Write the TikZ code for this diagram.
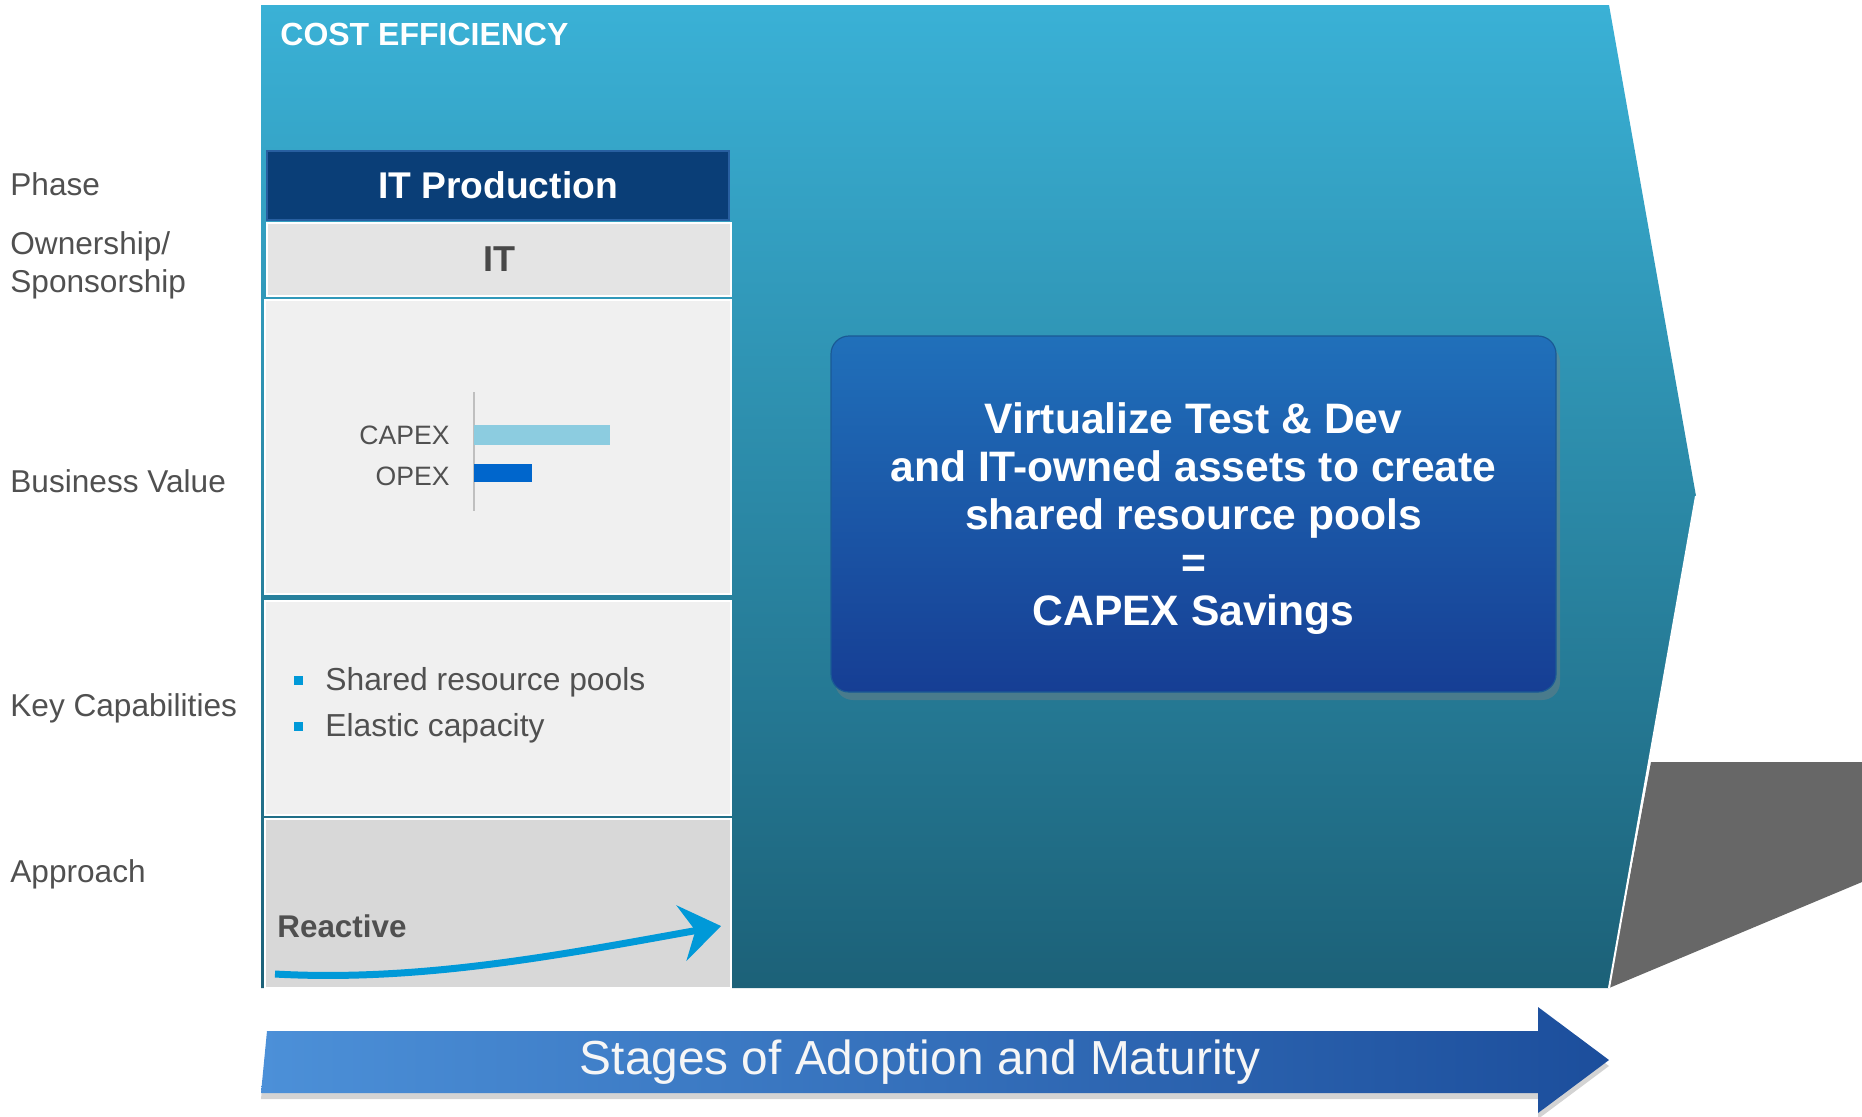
\documentclass[tikz,border=0pt]{standalone}
\usepackage{fontspec}
\setmainfont{Liberation Sans}
\usetikzlibrary{arrows.meta,shadows}
\definecolor{tealtop}{RGB}{58,177,214}
\definecolor{tealbot}{RGB}{28,97,120}
\definecolor{navy}{RGB}{10,62,119}
\definecolor{navyrim}{RGB}{40,95,160}
\definecolor{labelgray}{RGB}{80,80,80}
\definecolor{panelgray}{RGB}{240,240,240}
\definecolor{itgray}{RGB}{228,228,228}
\definecolor{appgray}{RGB}{216,216,216}
\definecolor{capexblue}{RGB}{140,204,224}
\definecolor{opexblue}{RGB}{0,102,204}
\definecolor{bulletblue}{RGB}{0,153,216}
\definecolor{boxtop}{RGB}{32,112,186}
\definecolor{boxbot}{RGB}{22,62,148}
\definecolor{stageleft}{RGB}{76,144,216}
\definecolor{stageright}{RGB}{28,78,156}
\definecolor{wedgegray}{RGB}{103,103,103}
\begin{document}
\begin{tikzpicture}[x=0.5pt,y=-0.5pt,
    rowlabel/.style={anchor=west,inner sep=0pt,text=labelgray,align=left,
      font=\fontsize{15.8}{19}\selectfont},
    panel/.style={draw=white,line width=0.8pt,inner sep=0pt},
    chartlabel/.style={anchor=east,inner sep=0pt,text=labelgray,
      font=\fontsize{13.3}{15}\selectfont},
    bullettext/.style={anchor=west,inner sep=0pt,text=labelgray,
      font=\fontsize{15.9}{19}\selectfont},
    bulletsq/.style={fill=bulletblue,minimum size=4.5pt,inner sep=0pt}]
  \useasboundingbox (0,0) rectangle (1862,1116);

  \fill[wedgegray] (1651,762) -- (1862,762) -- (1862,882) -- (1609,988) -- cycle;
  \path[top color=tealtop,bottom color=tealbot]
    (261,5) -- (1609,5) -- (1696,496) -- (1609,988) -- (261,988) -- cycle;
  \draw[white,line width=1pt] (1696,496) -- (1609,988);

  \path[drop shadow={opacity=0.35,shadow xshift=0pt,shadow yshift=-3pt},
    left color=stageleft,right color=stageright]
    (267,1031) -- (1538,1031) -- (1538,1007) -- (1609,1060) -- (1538,1113)
    -- (1538,1093) -- (261,1093) -- cycle;
  \node[text=white!93!gray,font=\fontsize{23.9}{28}\selectfont] (stages) at (920,1062)
    {Stages of Adoption and Maturity};

  \node[anchor=west,inner sep=0pt,text=white,font=\bfseries\fontsize{16}{19}\selectfont]
    (cost) at (280,34) {COST EFFICIENCY};

  \begin{scope}
    \node[rowlabel] (phase) at (10,184) {Phase};
    \node[rowlabel] (owner) at (10,265) {Ownership/\\Sponsorship};
    \node[rowlabel] (value) at (10,481) {Business Value};
    \node[rowlabel] (capab) at (10,708) {Key Capabilities};
    \node[rowlabel] (approach) at (10,874) {Approach};
  \end{scope}

  \node[draw=navyrim,line width=1pt,fill=navy,text=white,minimum width=231pt,minimum height=34.5pt,
    font=\bfseries\fontsize{18.6}{22}\selectfont] (itprod) at (498,185.5) {IT Production};
  \node[panel,fill=itgray,text=labelgray!90!black,minimum width=232pt,minimum height=36.5pt,
    font=\bfseries\fontsize{18}{22}\selectfont] (it) at (499,259.5) {IT};
  \node[panel,fill=panelgray,minimum width=233pt,minimum height=147pt] (valuepanel) at (498,447) {};
  \node[panel,fill=panelgray,minimum width=233pt,minimum height=107pt] (capabpanel) at (498,708) {};
  \node[panel,fill=appgray,minimum width=233pt,minimum height=84.5pt] (approachpanel) at (498,903.5) {};

  \draw[black!25,line width=0.8pt] (474,392) -- (474,511);
  \fill[capexblue] (474,425) rectangle (610,445);
  \fill[opexblue] (474,464) rectangle (532,482);
  \node[chartlabel] (capex) at (450,435) {CAPEX};
  \node[chartlabel] (opex) at (450,476) {OPEX};

  \node[bulletsq] (sq1) at (298,680) {};
  \node[bulletsq] (sq2) at (298,726) {};
  \node[bullettext] (pools) at (325,682) {Shared resource pools};
  \node[bullettext] (elastic) at (325,728) {Elastic capacity};

  \node[anchor=west,inner sep=0pt,text=labelgray,font=\bfseries\fontsize{15.7}{19}\selectfont]
    (reactive) at (277,926) {Reactive};
  \coordinate (reactstart) at (275,974);
  \coordinate (reactend) at (721,926);
  \draw[bulletblue,line width=3.5pt,-{Stealth[length=20pt,width=28pt,inset=7pt]}]
    (reactstart) .. controls (420,982) and (560,955) .. (reactend);

  \node[draw=boxtop!80!black,line width=0.6pt,rounded corners=9pt,top color=boxtop,bottom color=boxbot,
    drop shadow={opacity=0.4,shadow xshift=2pt,shadow yshift=-4pt},
    minimum width=362.5pt,minimum height=178pt] (savings) at (1193.5,514) {};
  \node[text=white,align=center,font=\bfseries\fontsize{21.3}{24}\selectfont] (savingstext)
    at (1193.5,519)
    {Virtualize Test \& Dev\\and IT-owned assets to create\\shared resource pools\\=\\CAPEX Savings};
\end{tikzpicture}
\end{document}
